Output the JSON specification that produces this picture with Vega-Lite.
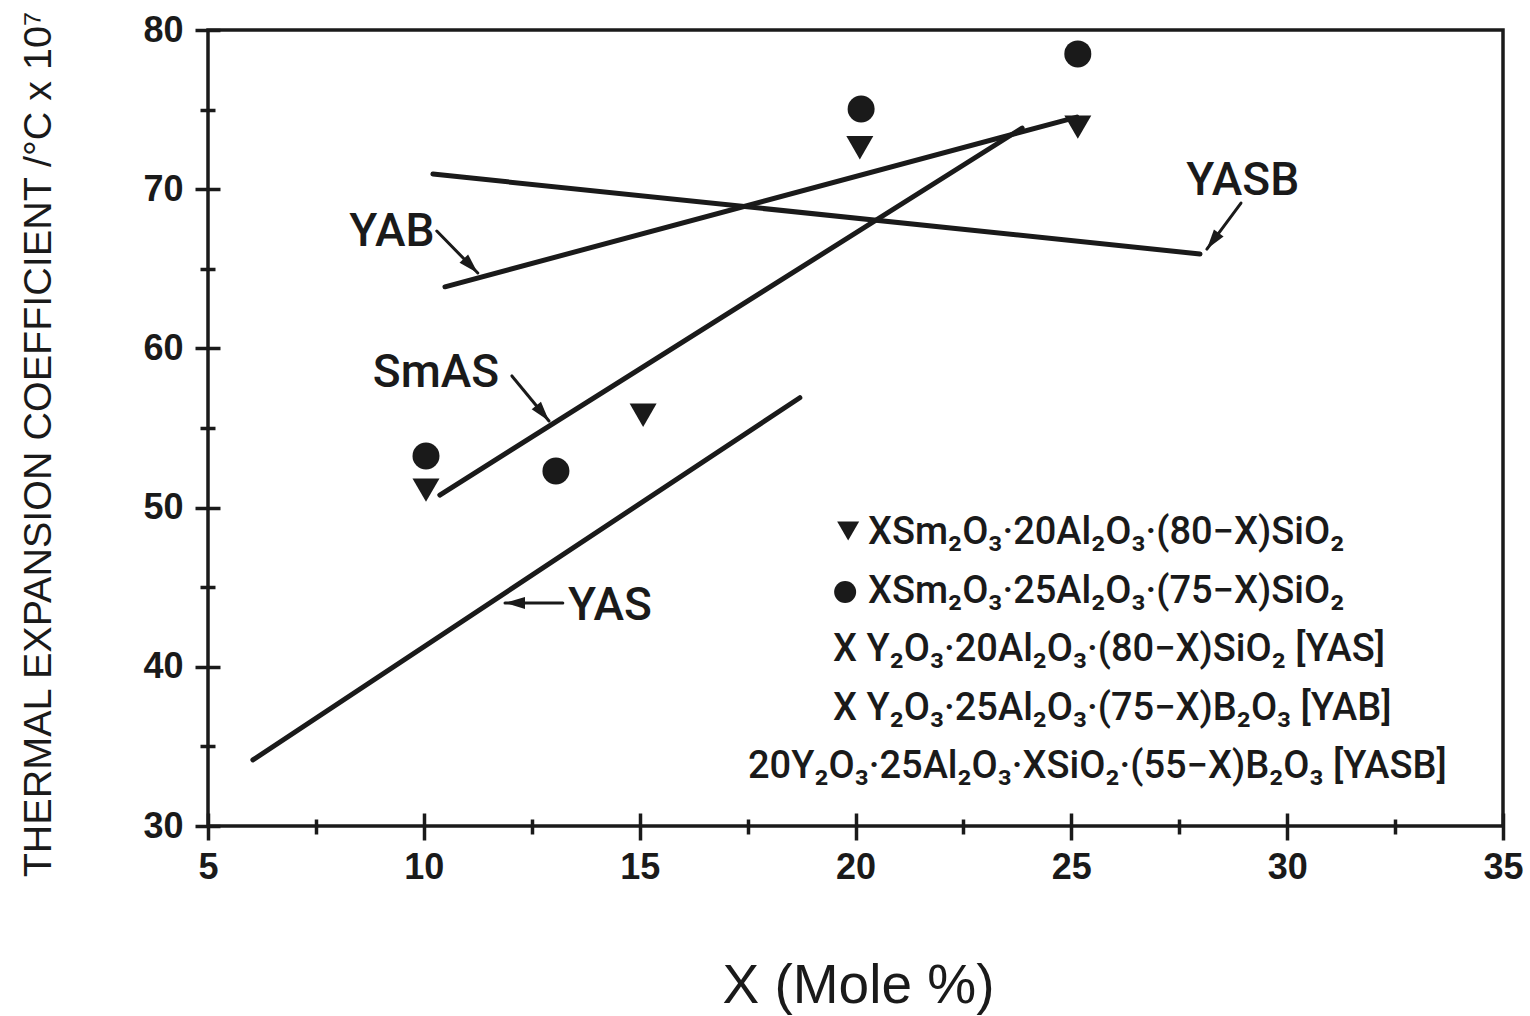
{
  "$schema": "https://vega.github.io/schema/vega-lite/v6.json",
  "width": 1295,
  "height": 796,
  "autosize": {"type": "none"},
  "padding": {"left": 208, "top": 30, "right": 27, "bottom": 190},
  "background": "white",
  "config": {
    "view": {"stroke": "#1a1a1a", "strokeWidth": 3.5},
    "font": "Liberation Sans"
  },
  "datasets": {
    "lines": [
      {"series": "YAS", "x": 6.04, "y": 34.15},
      {"series": "YAS", "x": 18.71, "y": 56.9},
      {"series": "SmAS", "x": 10.37, "y": 50.79},
      {"series": "SmAS", "x": 23.86, "y": 73.84},
      {"series": "YAB", "x": 10.49, "y": 63.87},
      {"series": "YAB", "x": 25.13, "y": 74.53},
      {"series": "YASB", "x": 10.21, "y": 70.95},
      {"series": "YASB", "x": 27.98, "y": 65.93}
    ],
    "points": [
      {"series": "Sm20", "x": 10.05, "y": 51.1},
      {"series": "Sm20", "x": 15.08, "y": 55.8},
      {"series": "Sm20", "x": 20.1, "y": 72.6},
      {"series": "Sm20", "x": 25.15, "y": 73.9},
      {"series": "Sm25", "x": 10.05, "y": 53.24},
      {"series": "Sm25", "x": 13.06, "y": 52.3},
      {"series": "Sm25", "x": 20.13, "y": 75.04},
      {"series": "Sm25", "x": 25.15, "y": 78.5}
    ],
    "arrows": [
      {"label": "YAB", "x": 10.30, "y": 67.37, "x2": 11.25, "y2": 64.74},
      {"label": "SmAS", "x": 12.04, "y": 58.27, "x2": 12.90, "y2": 55.44},
      {"label": "YAS", "x": 13.22, "y": 44.01, "x2": 11.88, "y2": 44.01},
      {"label": "YASB", "x": 28.93, "y": 69.13, "x2": 28.14, "y2": 66.24}
    ],
    "labels": [
      {"label": "YAB", "x": 9.26, "y": 67.31},
      {"label": "SmAS", "x": 10.28, "y": 58.45},
      {"label": "YAS", "x": 14.31, "y": 43.82},
      {"label": "YASB", "x": 28.97, "y": 70.52}
    ],
    "legendSymbols": [
      {"series": "Sm20", "x": 19.83, "y": 48.53},
      {"series": "Sm25", "x": 19.76, "y": 44.70}
    ],
    "legendText": [
      {"text": "XSm₂O₃·20Al₂O₃·(80−X)SiO₂", "x": 20.29, "y": 48.40},
      {"text": "XSm₂O₃·25Al₂O₃·(75−X)SiO₂", "x": 20.29, "y": 44.70},
      {"text": "X Y₂O₃·20Al₂O₃·(80−X)SiO₂  [YAS]", "x": 19.48, "y": 41.06},
      {"text": "X Y₂O₃·25Al₂O₃·(75−X)B₂O₃  [YAB]", "x": 19.48, "y": 37.35},
      {"text": "20Y₂O₃·25Al₂O₃·XSiO₂·(55−X)B₂O₃ [YASB]", "x": 17.51, "y": 33.71}
    ]
  },
  "resolve": {"axis": {"x": "independent", "y": "independent"}},
  "layer": [
    {
      "data": {"name": "lines"},
      "mark": {"type": "line", "color": "#1a1a1a", "strokeWidth": 5, "strokeCap": "round"},
      "encoding": {
        "x": {"field": "x", "type": "quantitative", "scale": {"domain": [5, 35], "nice": false, "zero": false},
          "axis": {"orient": "bottom", "values": [5, 10, 15, 20, 25, 30, 35], "tickSize": 27, "offset": -13, "tickWidth": 3.5, "tickColor": "#1a1a1a", "domain": false, "grid": false,
            "labelFont": "Liberation Sans", "labelFontWeight": "bold", "labelFontSize": 36, "labelColor": "#1a1a1a", "labelPadding": 10, "labelFlush": false, "labelOverlap": false,
            "title": "X (Mole %)", "titleFont": "Liberation Sans", "titleFontSize": 55, "titleFontWeight": "normal", "titleColor": "#1a1a1a",
            "titleX": 650, "titleY": 172, "titleAlign": "center", "titleBaseline": "middle", "titleAnchor": null}},
        "y": {"field": "y", "type": "quantitative", "scale": {"domain": [30, 80], "nice": false, "zero": false},
          "axis": {"orient": "left", "values": [30, 40, 50, 60, 70, 80], "tickSize": 25, "offset": -12, "tickWidth": 3.5, "tickColor": "#1a1a1a", "domain": false, "grid": false,
            "labelFont": "Liberation Sans", "labelFontWeight": "bold", "labelFontSize": 36, "labelColor": "#1a1a1a", "labelPadding": 12, "labelOverlap": false,
            "title": "THERMAL EXPANSION COEFFICIENT /°C x 10⁷", "titleFont": "Liberation Sans", "titleFontSize": 39.5, "titleFontWeight": "normal", "titleColor": "#1a1a1a",
            "titleX": -182, "titleY": 414, "titleAngle": 270, "titleAlign": "center", "titleBaseline": "middle", "titleAnchor": null}},
        "detail": {"field": "series", "type": "nominal"}
      }
    },
    {
      "data": {"name": "points"},
      "mark": {"type": "point", "filled": true, "opacity": 1, "color": "#1a1a1a", "size": 729},
      "encoding": {
        "x": {"field": "x", "type": "quantitative", "scale": {"domain": [5, 35], "nice": false, "zero": false},
          "axis": {"orient": "bottom", "values": [7.5, 12.5, 17.5, 22.5, 27.5, 32.5], "tickSize": 15, "offset": -7, "tickWidth": 3.5, "tickColor": "#1a1a1a", "domain": false, "grid": false, "labels": false, "title": null}},
        "y": {"field": "y", "type": "quantitative", "scale": {"domain": [30, 80], "nice": false, "zero": false},
          "axis": {"orient": "left", "values": [35, 45, 55, 65, 75], "tickSize": 15, "offset": -7, "tickWidth": 3.5, "tickColor": "#1a1a1a", "domain": false, "grid": false, "labels": false, "title": null}},
        "shape": {"field": "series", "type": "nominal", "scale": {"domain": ["Sm20", "Sm25"], "range": ["triangle-down", "circle"]}, "legend": null}
      }
    },
    {
      "data": {"name": "legendSymbols"},
      "mark": {"type": "point", "filled": true, "opacity": 1, "color": "#1a1a1a", "size": 484},
      "encoding": {
        "x": {"field": "x", "type": "quantitative", "scale": {"domain": [5, 35]}, "axis": null},
        "y": {"field": "y", "type": "quantitative", "scale": {"domain": [30, 80]}, "axis": null},
        "shape": {"field": "series", "type": "nominal", "legend": null}
      }
    },
    {
      "data": {"name": "arrows"},
      "mark": {"type": "rule", "color": "#1a1a1a", "strokeWidth": 3, "strokeCap": "round"},
      "encoding": {
        "x": {"field": "x", "type": "quantitative", "scale": {"domain": [5, 35]}, "axis": null},
        "y": {"field": "y", "type": "quantitative", "scale": {"domain": [30, 80]}, "axis": null},
        "x2": {"field": "x2"},
        "y2": {"field": "y2"}
      }
    },
    {
      "data": {"name": "arrows"},
      "transform": [{"filter": "datum.label === 'YAB'"}],
      "mark": {"type": "point", "filled": true, "opacity": 1, "color": "#1a1a1a", "size": 400, "angle": 135.7, "shape": "M0,0L0.6,2L-0.6,2Z"},
      "encoding": {
        "x": {"field": "x2", "type": "quantitative", "scale": {"domain": [5, 35]}, "axis": null},
        "y": {"field": "y2", "type": "quantitative", "scale": {"domain": [30, 80]}, "axis": null}
      }
    },
    {
      "data": {"name": "arrows"},
      "transform": [{"filter": "datum.label === 'SmAS'"}],
      "mark": {"type": "point", "filled": true, "opacity": 1, "color": "#1a1a1a", "size": 400, "angle": 140.6, "shape": "M0,0L0.6,2L-0.6,2Z"},
      "encoding": {
        "x": {"field": "x2", "type": "quantitative", "scale": {"domain": [5, 35]}, "axis": null},
        "y": {"field": "y2", "type": "quantitative", "scale": {"domain": [30, 80]}, "axis": null}
      }
    },
    {
      "data": {"name": "arrows"},
      "transform": [{"filter": "datum.label === 'YAS'"}],
      "mark": {"type": "point", "filled": true, "opacity": 1, "color": "#1a1a1a", "size": 400, "angle": 270, "shape": "M0,0L0.6,2L-0.6,2Z"},
      "encoding": {
        "x": {"field": "x2", "type": "quantitative", "scale": {"domain": [5, 35]}, "axis": null},
        "y": {"field": "y2", "type": "quantitative", "scale": {"domain": [30, 80]}, "axis": null}
      }
    },
    {
      "data": {"name": "arrows"},
      "transform": [{"filter": "datum.label === 'YASB'"}],
      "mark": {"type": "point", "filled": true, "opacity": 1, "color": "#1a1a1a", "size": 400, "angle": 216.5, "shape": "M0,0L0.6,2L-0.6,2Z"},
      "encoding": {
        "x": {"field": "x2", "type": "quantitative", "scale": {"domain": [5, 35]}, "axis": null},
        "y": {"field": "y2", "type": "quantitative", "scale": {"domain": [30, 80]}, "axis": null}
      }
    },
    {
      "data": {"name": "labels"},
      "mark": {"type": "text", "font": "Roboto", "fontSize": 46, "fontWeight": 500, "color": "#1a1a1a", "align": "center", "baseline": "middle"},
      "encoding": {
        "x": {"field": "x", "type": "quantitative", "scale": {"domain": [5, 35]}, "axis": null},
        "y": {"field": "y", "type": "quantitative", "scale": {"domain": [30, 80]}, "axis": null},
        "text": {"field": "label"}
      }
    },
    {
      "data": {"name": "legendText"},
      "mark": {"type": "text", "font": "Roboto", "fontSize": 38, "fontWeight": 500, "color": "#1a1a1a", "align": "left", "baseline": "middle"},
      "encoding": {
        "x": {"field": "x", "type": "quantitative", "scale": {"domain": [5, 35]}, "axis": null},
        "y": {"field": "y", "type": "quantitative", "scale": {"domain": [30, 80]}, "axis": null},
        "text": {"field": "text"}
      }
    }
  ]
}
